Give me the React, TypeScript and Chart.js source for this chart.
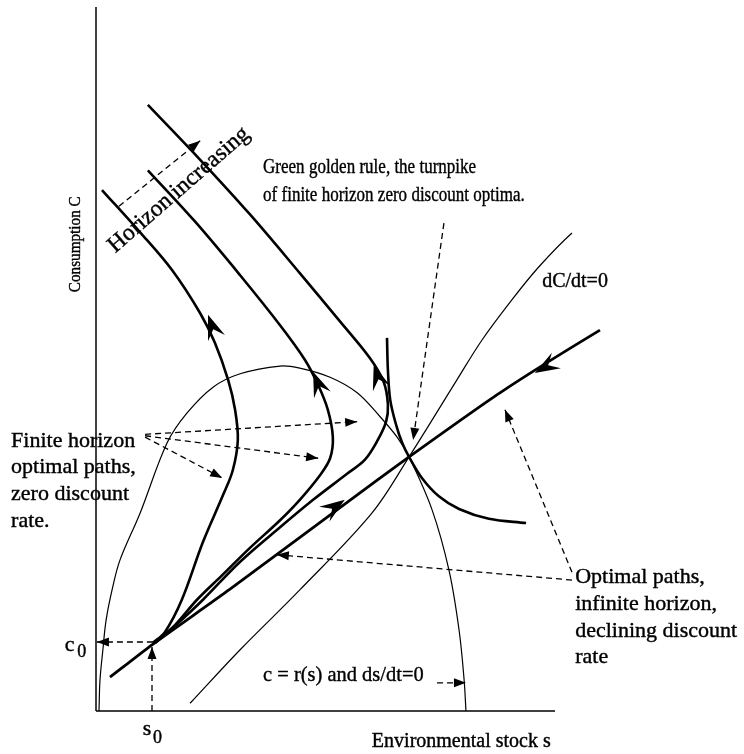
import React, { useEffect, useRef } from "react";
import { Chart, registerables } from "chart.js";

Chart.register(...registerables);

type P = [number, number];

// Axes (environmental stock s on x, consumption C on y), arbitrary units 0..100
const yAxisLine: P[] = [[0, 0], [0, 100]];
const xAxisLine: P[] = [[0, 0], [100, 0]];

// c = r(s), ds/dt = 0 (hump)
const humpRs: P[] = [
  [0.65, 0], [0.87, 4.4], [1.5, 8.7], [2.2, 12.9], [3.5, 17.2], [5.2, 21.4], [9.6, 28.1],
  [15.5, 38.1], [19.8, 42.3], [25.5, 46.0], [31.4, 47.9], [40.1, 49.0], [44.4, 48.7],
  [51.0, 47.4], [56.9, 45.2], [61.9, 41.8], [65.6, 38.9], [68.2, 36.1], [73.2, 28.6],
  [76.9, 20.0], [79.1, 11.5], [80.2, 4.4], [80.6, 0],
];

// dC/dt = 0
const dCdtZero: P[] = [
  [20.5, 1.1], [31.4, 8.7], [44.4, 17.2], [60.1, 28.1], [68.2, 36.1], [78.6, 47.0],
  [84.1, 52.7], [90.6, 58.4], [96.5, 63.1], [103.7, 67.9], [114.4, 73.6],
];

// Optimal path, infinite horizon (saddle path)
const saddlePath: P[] = [
  [3.05, 4.8], [12.2, 9.4], [29.2, 17.3], [54.2, 29.4], [68.2, 36.1], [88.0, 45.2],
  [109.8, 54.1], [127.9, 60.9],
];

// Finite horizon optimal paths, zero discount rate
const finitePath1: P[] = [
  [12.4, 9.7], [15.0, 11.2], [18.7, 15.8], [23.3, 24.0], [27.7, 30.7], [29.8, 34.2],
  [30.9, 38.5], [30.3, 42.8], [28.8, 47.0], [25.9, 52.3], [22.7, 56.5], [16.6, 62.6],
  [9.6, 68.0], [1.3, 74.0],
];
const finitePath2: P[] = [
  [12.9, 9.7], [17.2, 12.2], [22.0, 15.8], [27.5, 19.3], [33.6, 23.2], [40.1, 27.1],
  [44.4, 30.0], [48.8, 33.5], [51.0, 35.9], [51.6, 38.9], [50.5, 42.8], [48.4, 46.3],
  [45.5, 49.9], [40.1, 54.8], [31.4, 61.9], [21.6, 69.5], [11.3, 76.8],
];
const finitePath3: P[] = [
  [12.9, 9.7], [17.9, 12.5], [23.3, 15.8], [31.4, 21.2], [40.1, 26.1], [47.3, 30.0],
  [54.7, 33.7], [58.6, 35.7], [61.4, 38.5], [63.2, 41.1], [63.6, 43.5], [62.7, 46.7],
  [59.7, 50.1], [53.2, 55.3], [44.4, 62.2], [33.6, 70.5], [22.7, 78.3], [11.3, 86.1],
];

// Green golden rule turnpike branch
const turnpike: P[] = [
  [63.4, 53.0], [63.6, 48.4], [64.1, 44.2], [65.4, 40.6], [66.7, 38.1], [68.2, 36.1],
  [71.0, 33.1], [74.7, 30.5], [79.1, 28.7], [85.6, 27.3], [93.7, 26.7],
];

// Dashed pointer arrows: [from, to]
const dashedArrows: [P, P][] = [
  [[5.0, 71.7], [22.7, 81.0]],
  [[75.8, 69.3], [69.1, 38.5]],
  [[10.7, 39.3], [56.9, 41.1]],
  [[10.7, 39.1], [48.4, 35.9]],
  [[10.7, 38.9], [27.5, 33.1]],
  [[103.7, 18.6], [39.4, 22.2]],
  [[103.7, 19.7], [89.1, 42.8]],
  [[74.3, 4.0], [80.6, 4.0]],
  [[12.4, 9.8], [0.2, 9.8]],
  [[12.2, 0], [12.2, 9.1]],
];

// Direction arrowheads on the paths: [behind, tip]
const pathArrows: [P, P][] = [
  [[27.0, 51.6], [24.4, 56.3]],
  [[49.5, 44.6], [47.3, 48.2]],
  [[62.5, 45.2], [60.5, 49.2]],
  [[49.2, 27.7], [54.2, 30.0]],
  [[101.1, 50.1], [95.6, 48.0]],
];

type Label = { text: string; at: P; size: number; rot?: number; sx?: number; align?: CanvasTextAlign };
const textLabels: Label[] = [
  { text: "Consumption C", at: [-3.5, 66.3], size: 16, rot: -90, align: "center", sx: 0.95 },
  { text: "Horizon increasing", at: [4.2, 65.0], size: 23.5, rot: -41 },
  { text: "Green golden rule, the turnpike", at: [36.4, 76.4], size: 21, sx: 0.81 },
  { text: "of finite horizon zero discount optima.", at: [36.4, 72.4], size: 21, sx: 0.81 },
  { text: "dC/dt=0", at: [97.2, 60.2], size: 20 },
  { text: "Finite horizon", at: [-18.5, 37.5], size: 22 },
  { text: "optimal paths,", at: [-18.5, 33.8], size: 22 },
  { text: "zero discount", at: [-18.5, 30.0], size: 22 },
  { text: "rate.", at: [-18.5, 26.1], size: 22 },
  { text: "Optimal paths,", at: [104.4, 18.2], size: 22 },
  { text: "infinite horizon,", at: [104.4, 14.3], size: 22 },
  { text: "declining discount", at: [104.4, 10.5], size: 22 },
  { text: "rate", at: [104.4, 6.8], size: 22 },
  { text: "c = r(s) and ds/dt=0", at: [36.4, 4.3], size: 22, sx: 0.93 },
  { text: "c", at: [-6.8, 8.5], size: 22 },
  { text: "0", at: [-4.1, 7.7], size: 18 },
  { text: "s", at: [10.2, -3.4], size: 22 },
  { text: "0", at: [12.4, -4.5], size: 18 },
  { text: "Environmental stock s", at: [60.1, -5.1], size: 20 },
];

const FONT = '"Liberation Serif", "Times New Roman", serif';

function toXY(pts: P[]) {
  return pts.map(([x, y]) => ({ x, y }));
}

function lineSet(pts: P[], width: number, extra: Record<string, unknown> = {}) {
  return {
    data: toXY(pts),
    showLine: true,
    borderColor: "#000",
    backgroundColor: "#000",
    borderWidth: width,
    pointRadius: 0,
    pointHoverRadius: 0,
    tension: 0.35,
    fill: false,
    clip: false as const,
    ...extra,
  };
}

function drawHead(ctx: CanvasRenderingContext2D, from: number[], to: number[], len: number, half: number, notch: number) {
  const ang = Math.atan2(to[1] - from[1], to[0] - from[0]);
  ctx.save();
  ctx.translate(to[0], to[1]);
  ctx.rotate(ang);
  ctx.beginPath();
  ctx.moveTo(0, 0);
  ctx.lineTo(-len, -half);
  ctx.lineTo(-len * notch, 0);
  ctx.lineTo(-len, half);
  ctx.closePath();
  ctx.fill();
  ctx.restore();
}

const annotPlugin = {
  id: "annot",
  afterDatasetsDraw(chart: any) {
    const { ctx, scales } = chart;
    const xs = scales.x;
    const ys = scales.y;
    const px = (p: P) => [xs.getPixelForValue(p[0]), ys.getPixelForValue(p[1])];
    ctx.save();
    ctx.fillStyle = "#000";
    ctx.strokeStyle = "#000";
    for (const a of pathArrows) drawHead(ctx, px(a[0]), px(a[1]), 25, 9, 0.62);
    for (const d of dashedArrows) drawHead(ctx, px(d[0]), px(d[1]), 12, 4.5, 1);
    for (const t of textLabels) {
      const [X, Y] = px(t.at);
      ctx.save();
      ctx.translate(X, Y);
      ctx.rotate(((t.rot ?? 0) * Math.PI) / 180);
      ctx.scale(t.sx ?? 1, 1);
      ctx.font = `${t.size}px ${FONT}`;
      ctx.textAlign = t.align ?? "left";
      ctx.textBaseline = "alphabetic";
      ctx.lineWidth = 0.4;
      ctx.fillText(t.text, 0, 0);
      ctx.strokeText(t.text, 0, 0);
      ctx.restore();
    }
    ctx.restore();
  },
};

export default function App() {
  const ref = useRef<HTMLCanvasElement>(null);
  useEffect(() => {
    if (!ref.current) return;
    const datasets: any[] = [
      lineSet(yAxisLine, 1.5, { tension: 0 }),
      lineSet(xAxisLine, 1.5, { tension: 0 }),
      lineSet(humpRs, 1.2),
      lineSet(dCdtZero, 1.2),
      lineSet(saddlePath, 2.8, { tension: 0.2 }),
      lineSet(finitePath1, 2.6),
      lineSet(finitePath2, 2.6),
      lineSet(finitePath3, 2.6),
      lineSet(turnpike, 2.6),
      ...dashedArrows.map((d) => lineSet(d, 1.3, { tension: 0, borderDash: [6, 4] })),
    ];
    const chart = new Chart(ref.current, {
      type: "scatter",
      data: { datasets },
      options: {
        responsive: false,
        animation: false,
        events: [],
        layout: { padding: { left: 96, right: 189, top: 7, bottom: 43 } },
        scales: {
          x: { type: "linear", min: 0, max: 100, display: false },
          y: { type: "linear", min: 0, max: 100, display: false },
        },
        plugins: { legend: { display: false }, tooltip: { enabled: false } },
      },
      plugins: [annotPlugin],
    });
    return () => chart.destroy();
  }, []);
  return (
    <div style={{ position: "absolute", left: 0, top: 0, width: 744, height: 754, background: "#fff" }}>
      <canvas ref={ref} width={744} height={754} style={{ display: "block" }} />
    </div>
  );
}
